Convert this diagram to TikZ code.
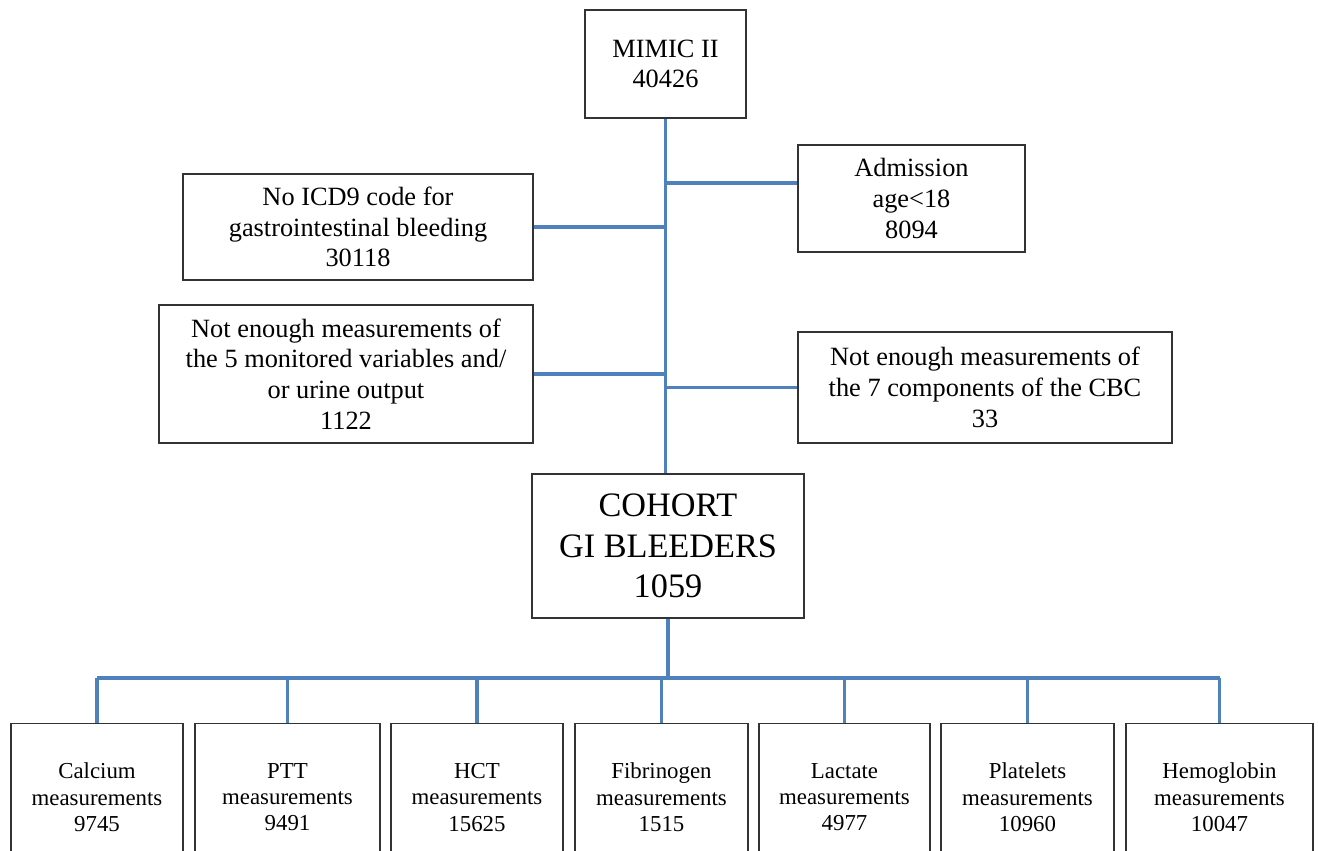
\documentclass[tikz,border=0pt]{standalone}
\usepackage{fontspec}
\setmainfont{Liberation Serif}
\usetikzlibrary{positioning}
\definecolor{linkblue}{RGB}{79,129,189}

\begin{document}
\begin{tikzpicture}[x=0.02cm, y=-0.02cm,
        box/.style={draw=black!80, line width=0.8pt, align=center, inner sep=0pt},
        sidebox/.style={box, font=\fontsize{15}{17.5}\selectfont},
        measbox/.style={box, font=\fontsize{13}{15}\selectfont, minimum height=2.94cm, anchor=north},
        link/.style={linkblue, line width=1.8pt}]

        % Page frame
        \path[use as bounding box, clip] (0,0) rectangle (1318,850);

        % Source and cohort
        \node[box, font=\fontsize{15}{17.5}\selectfont, minimum width=3.22cm, minimum height=2.16cm] (mimic) at (665.5,64) {MIMIC II\\40426};
        \node[box, font=\fontsize{19.5}{22.9}\selectfont, minimum width=5.44cm, minimum height=2.88cm] (cohort) at (668,546) {COHORT\\GI BLEEDERS\\1059};

        % Exclusions
        \node[sidebox, minimum width=4.54cm, minimum height=2.14cm] (admit) at (911.5,198.5) {Admission\\age<18\\8094};
        \node[sidebox, minimum width=7cm, minimum height=2.12cm] (noicd) at (358,227) {No ICD9 code for\\gastrointestinal bleeding\\30118};
        \node[sidebox, minimum width=7.48cm, minimum height=2.76cm] (notfive) at (346,374) {Not enough measurements of\\the 5 monitored variables and/\\or urine output\\1122};
        \node[sidebox, minimum width=7.48cm, minimum height=2.22cm] (notseven) at (985,387.5) {Not enough measurements of\\the 7 components of the CBC\\33};

        % Measurement boxes
        \node[measbox, minimum width=3.44cm] (calc) at (97,723) {Calcium\\measurements\\9745};
        \node[measbox, minimum width=3.70cm] (ptt) at (287.5,723) {PTT\\measurements\\9491};
        \node[measbox, minimum width=3.44cm] (hct) at (477,723) {HCT\\measurements\\15625};
        \node[measbox, minimum width=3.46cm] (fib) at (661.5,723) {Fibrinogen\\measurements\\1515};
        \node[measbox, minimum width=3.42cm] (lact) at (844.5,723) {Lactate\\measurements\\4977};
        \node[measbox, minimum width=3.46cm] (plat) at (1027.5,723) {Platelets\\measurements\\10960};
        \node[measbox, minimum width=3.74cm] (hemo) at (1219.5,723) {Hemoglobin\\measurements\\10047};

        % Trunk and side branches
        \draw[link] (mimic.south) -- (mimic.south |- cohort.north);
        \coordinate (admitin) at ([yshift=0.31cm]admit.west);
        \draw[link] (admitin) -- (admitin -| mimic.south);
        \draw[link] (noicd.east) -- (noicd.east -| mimic.south);
        \draw[link] (notfive.east) -- (notfive.east -| mimic.south);
        \draw[link] (notseven.west) -- (notseven.west -| mimic.south);

        % Bus to the measurement boxes
        \coordinate (bus) at (0,678);
        \draw[link] (cohort.south) -- (cohort.south |- bus);
        \draw[link] (calc.north |- bus) -- (hemo.north |- bus);
        \foreach \m in {calc,ptt,hct,fib,lact,plat,hemo}
            \draw[link] (\m.north |- bus) -- (\m.north);
    \end{tikzpicture}
\end{document}
